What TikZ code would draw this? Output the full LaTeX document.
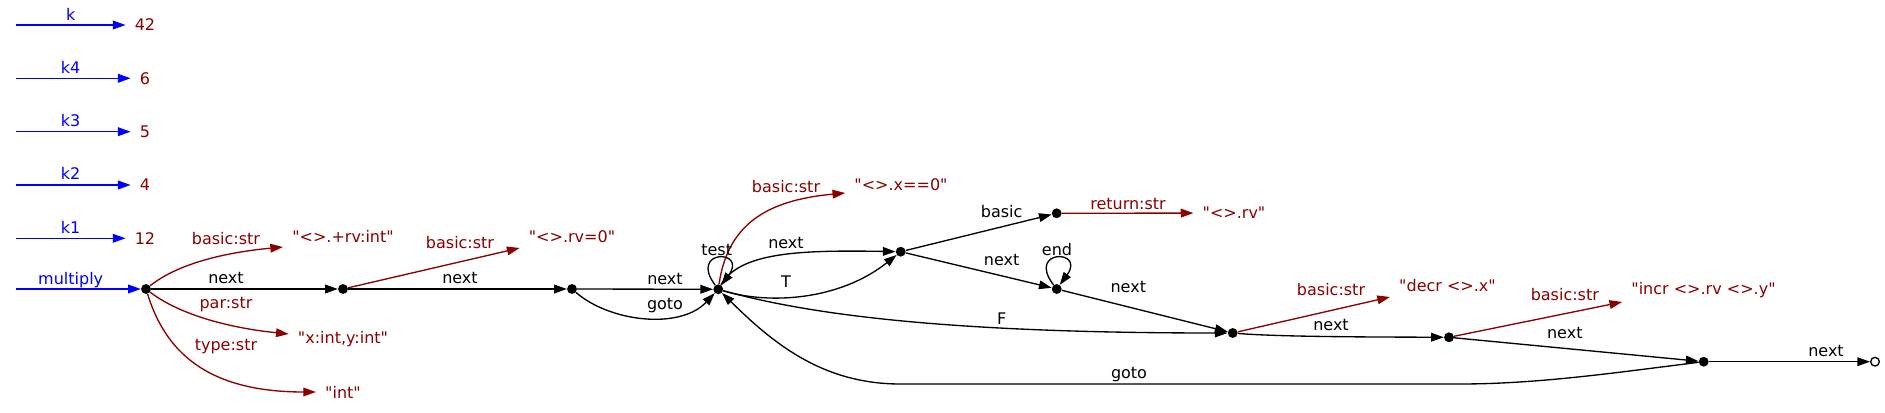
\documentclass[tikz,border=0pt]{standalone}
\usepackage{fontspec}
\newfontfamily\dvs{DejaVu Sans}
\usetikzlibrary{arrows.meta,calc}
\definecolor{kblue}{RGB}{0,0,255}
\definecolor{dred}{RGB}{139,0,0}
\begin{document}
\begin{tikzpicture}[x=0.75pt,y=-0.75pt,
  every node/.style={font=\dvs\fontsize{12}{14}\selectfont},
  lbl/.style={inner sep=0pt, text height=8.75pt, text depth=0pt},
  blbl/.style={lbl, text=kblue},
  rlbl/.style={lbl, text=dred},
  val/.style={lbl, text=dred, inner xsep=6.75pt},
  dot/.style={circle, fill=black, inner sep=0pt, minimum size=7.4pt},
  hole/.style={circle, draw=black, line width=1pt, fill=white, inner sep=0pt, minimum size=6.5pt},
  e/.style={line width=1pt, color=black, -{Triangle[length=9.5pt,width=6.5pt]}},
  re/.style={e, color=dred},
  be/.style={e, color=kblue}]
\useasboundingbox[fill=white] (0,0) rectangle (1885,413);

% left column
\node[val] (k0) at (145,25) {42};
\node[val] (k4) at (145,78.3) {6};
\node[val] (k3) at (145,131.7) {5};
\node[val] (k2) at (145,185) {4};
\node[val] (k1) at (145,238.3) {12};
\coordinate (s0) at (15.7,25);
\coordinate (s4) at (15.7,78.3);
\coordinate (s3) at (15.7,131.7);
\coordinate (s2) at (15.7,185);
\coordinate (s1) at (15.7,238.3);
\coordinate (sm) at (15.7,289);

% graph nodes
\node[dot] (m) at (146,289) {};
\node[dot] (n1) at (343,289) {};
\node[dot] (n2) at (572,289) {};
\node[dot] (t) at (718.3,289.3) {};
\node[dot] (A) at (900.7,251.7) {};
\node[dot] (B) at (1056.7,213.3) {};
\node[dot] (C) at (1056.7,289) {};
\node[dot] (D) at (1232.7,333) {};
\node[dot] (E) at (1449,337.3) {};
\node[dot] (G) at (1703.7,361.7) {};
\node[hole] (O) at (1875,361.7) {};

% value nodes
\node[val] (v1) at (343,237) {"<>.+rv:int"};
\node[val] (v2) at (343,338) {"x:int,y:int"};
\node[val] (v3) at (343,393) {"int"};
\node[val] (v4) at (572,237) {"<>.rv=0"};
\node[val] (v5) at (901,185) {"<>.x==0"};
\node[val] (v6) at (1234,213) {"<>.rv"};
\node[val] (v7) at (1447.5,286) {"decr <>.x"};
\node[val] (v8) at (1703.5,289) {"incr <>.rv <>.y"};

% blue edges
\draw[be] (s0) -- (k0);
\draw[be] (s4) -- (k4);
\draw[be] (s3) -- (k3);
\draw[be] (s2) -- (k2);
\draw[be] (s1) -- (k1);
\draw[be] (sm) -- (m);
\node[blbl] (lk0) at (70.7,15) {k};
\node[blbl] (lk4) at (70.7,67.7) {k4};
\node[blbl] (lk3) at (70.7,120.7) {k3};
\node[blbl] (lk2) at (70.7,174) {k2};
\node[blbl] (lk1) at (70.7,227.7) {k1};
\node[blbl] (lkm) at (70.7,278.3) {multiply};

% red edges
\draw[re] (m) .. controls (180,262) and (230,252) .. ($(v1.west)+(0,10)$);
\draw[re] (m) .. controls (180,315) and (230,328) .. ($(v2.west)+(0,-4)$);
\draw[re] (m) .. controls (165,350) and (205,392) .. ($(v3.west)+(0,-1)$);
\draw[re] (n1) -- ($(v4.west)+(0,11)$);
\draw[re] (t) .. controls (728,222) and (770,200) .. ($(v5.west)+(0,8)$);
\draw[re] (B) -- (v6);
\draw[re] (D) -- ($(v7.west)+(0,11)$);
\draw[re] (E) -- ($(v8.west)+(0,13)$);
\node[rlbl] (r1) at (226,239) {basic:str};
\node[rlbl] (r2) at (226,303) {par:str};
\node[rlbl] (r3) at (226,345) {type:str};
\node[rlbl] (r4) at (460,243) {basic:str};
\node[rlbl] (r5) at (786,187) {basic:str};
\node[rlbl] (r6) at (1128,203.3) {return:str};
\node[rlbl] (r7) at (1331,290) {basic:str};
\node[rlbl] (r8) at (1564.8,294.3) {basic:str};

% black edges
\draw[e] (m) -- (n1);
\draw[e] (n1) -- (n2);
\draw[e] (n2) -- (t);
\draw[e] (n2) .. controls (610,322) and (680,330) .. (t);
\draw[e] (t) .. controls (688,249) and (748,249) .. (t);
\draw[e] (t) .. controls (740,252) and (800,250) .. (A);
\draw[e] (t) .. controls (770,305) and (840,300) .. (A);
\draw[e] (t) .. controls (810,315) and (950,333) .. (D);
\draw[e] (A) -- (B);
\draw[e] (A) -- (C);
\draw[e] (C) .. controls (1026,249) and (1086,249) .. (C);
\draw[e] (C) -- (D);
\draw[e] (D) .. controls (1280,337) and (1380,337) .. (E);
\draw[e] (E) -- (G);
\draw[e] (G) -- (O);
\draw[e] (G) .. controls (1620,372) and (1540,384) .. (1460,384) -- (900,384) .. controls (820,384) and (770,340) .. (t);

\node[lbl] (b1) at (226,278) {next};
\node[lbl] (b2) at (460,278) {next};
\node[lbl] (b3) at (665,279) {next};
\node[lbl] (b4) at (665,304) {goto};
\node[lbl] (b5) at (716.7,249.5) {test};
\node[lbl] (b6) at (786,243) {next};
\node[lbl] (b7) at (786,281.7) {T};
\node[lbl] (b8) at (1001.6,318.3) {F};
\node[lbl] (b9) at (1001.6,211.7) {basic};
\node[lbl] (b10) at (1001.6,259.3) {next};
\node[lbl] (b11) at (1057,249.5) {end};
\node[lbl] (b12) at (1128.3,286.7) {next};
\node[lbl] (b13) at (1331,325) {next};
\node[lbl] (b14) at (1564.8,332.7) {next};
\node[lbl] (b15) at (1826,350.7) {next};
\node[lbl] (b16) at (1129,372.7) {goto};
\end{tikzpicture}
\end{document}
